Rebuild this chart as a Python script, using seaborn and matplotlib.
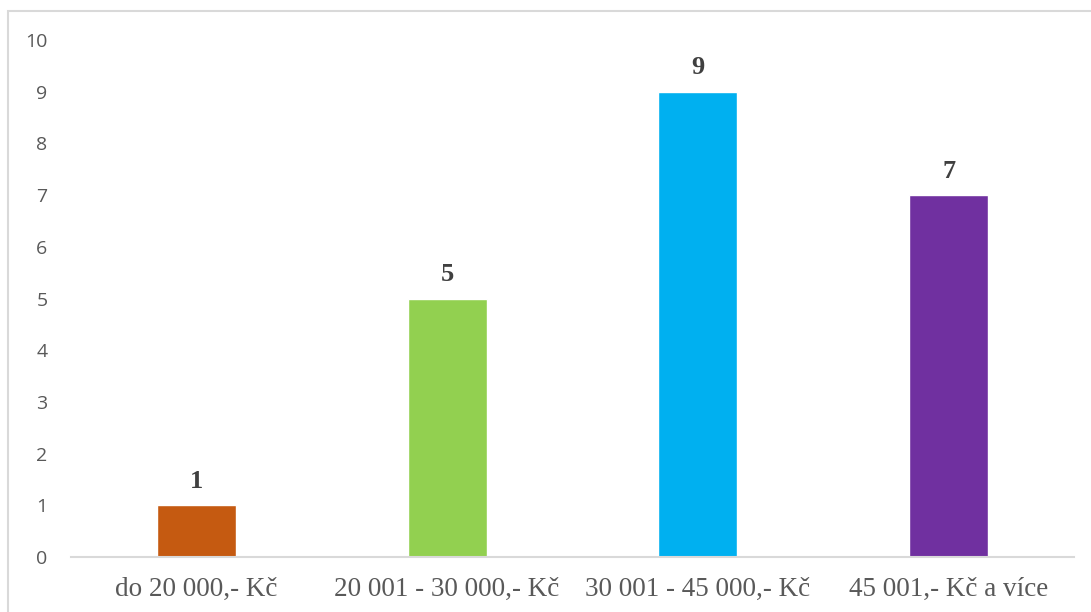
import matplotlib
matplotlib.use("Agg")
import matplotlib.pyplot as plt
from matplotlib.patches import Rectangle
import seaborn as sns
import pandas as pd

categories = ["do 20 000,- Kč", "20 001 - 30 000,- Kč", "30 001 - 45 000,- Kč", "45 001,- Kč a více"]
counts = [1, 5, 9, 7]
colors = ["#C55A11", "#92D050", "#00B0F0", "#7030A0"]
y_ticks = list(range(0, 11))

df = pd.DataFrame({"kategorie": categories, "pocet": counts})

sns.set_style("white")
W, H = 1091, 612
fig = plt.figure(figsize=(W / 100, H / 100), dpi=100)
ax = fig.add_axes([71 / W, (H - 557) / H, (1074 - 71) / W, (557 - 40) / H])

sns.barplot(data=df, x="kategorie", y="pocet", hue="kategorie",
            palette=colors, width=0.315, saturation=1, legend=False, ax=ax)

ax.set_ylim(0, 10)
ax.set_xlim(-0.5, len(categories) - 0.5)
ax.set_yticks(y_ticks)
ax.set_xlabel("")
ax.set_ylabel("")

for side in ["top", "right", "left"]:
    ax.spines[side].set_visible(False)
ax.spines["bottom"].set_color("#D9D9D9")
ax.spines["bottom"].set_linewidth(1.5)

ax.tick_params(axis="y", length=0, pad=17, labelsize=14, labelcolor="#595959")
for lbl in ax.get_yticklabels():
    lbl.set_fontfamily("Open Sans")
ax.tick_params(axis="x", length=0, pad=14, labelsize=19.5, labelcolor="#595959")
for lbl in ax.get_xticklabels():
    lbl.set_fontfamily("Liberation Serif")

for cont in ax.containers:
    ax.bar_label(cont, labels=[f"{int(v)}" for v in cont.datavalues], padding=9,
                 fontsize=19, fontweight="bold", color="#404040",
                 fontfamily="Liberation Serif")

# outer chart frame
fig.patches.append(Rectangle((7.5 / W, -0.1), 1.2, (H - 11) / H + 0.1,
                             transform=fig.transFigure, fill=False,
                             edgecolor="#D9D9D9", linewidth=1.5, zorder=0))

fig.savefig("out.png", dpi=100)
